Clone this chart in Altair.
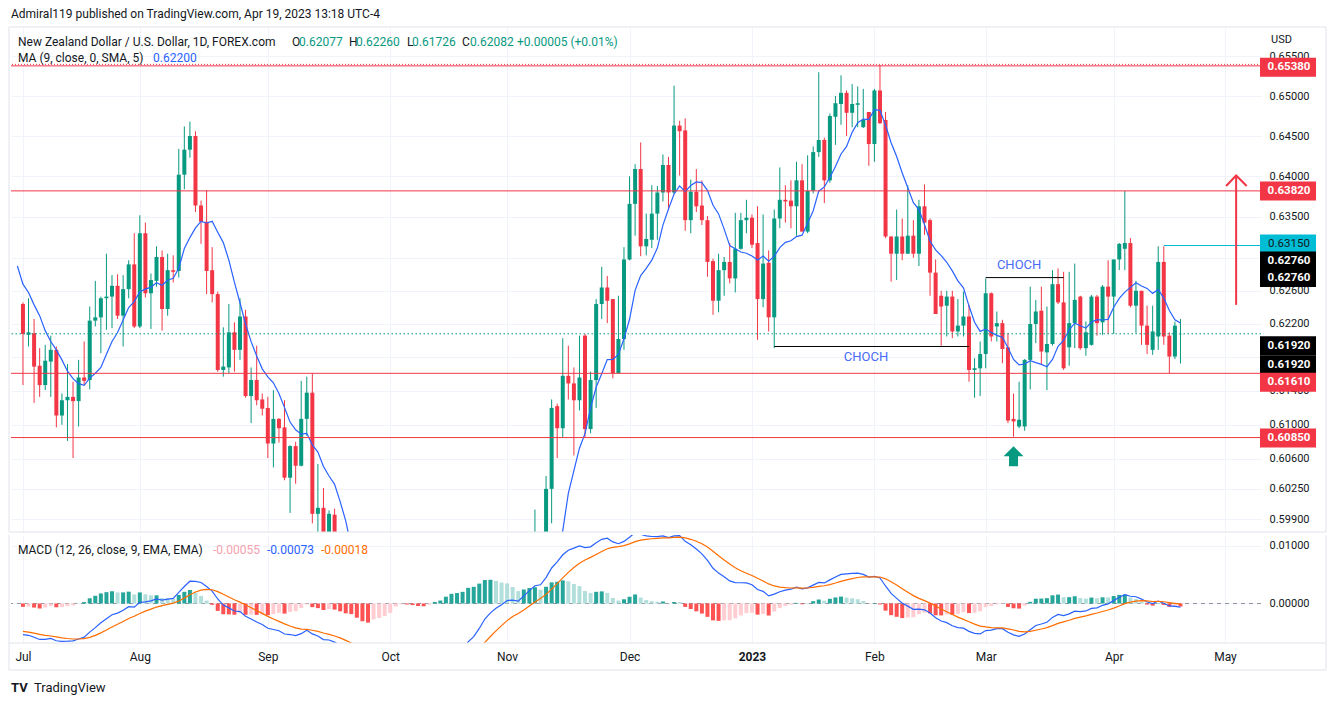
import altair as alt
import numpy as np
import pandas as pd

FONT = "Roboto"
UP, DOWN = "#089981", "#f23645"
INK = "#131722"
W, H1, H2 = 1250, 504, 108
X0, X1 = -1.25, 221.57

# ---- daily candles, NZD/USD, 1 Jul 2022 .. 19 Apr 2023 (index 0 = 1 Jul 2022) ----
opens = [
    0.6244, 0.6207, 0.6209, 0.6170, 0.6147, 0.6175, 0.6189, 0.6111, 0.6129, 0.6133,
    0.6128, 0.6156, 0.6153, 0.6224, 0.6228, 0.6251, 0.6253, 0.6266, 0.6230, 0.6262,
    0.6292, 0.6217, 0.6330, 0.6257, 0.6272, 0.6301, 0.6238, 0.6285, 0.6284, 0.6402,
    0.6433, 0.6450, 0.6364, 0.6344, 0.6285, 0.6256, 0.6165, 0.6168, 0.6210, 0.6189,
    0.6229, 0.6134, 0.6153, 0.6130, 0.6120, 0.6078, 0.6107, 0.6097, 0.6038, 0.6075,
    0.6052, 0.6107, 0.6138, 0.5996, 0.6003, 0.5950, 0.5995, 0.5950, 0.5895, 0.5850,
    0.5840, 0.5720, 0.5665, 0.5650, 0.5720, 0.5670, 0.5660, 0.5680, 0.5770, 0.5700,
    0.5640, 0.5610, 0.5575, 0.5565, 0.5590, 0.5620, 0.5595, 0.5665, 0.5670, 0.5640,
    0.5660, 0.5750, 0.5720, 0.5800, 0.5860, 0.5830, 0.5820, 0.5820, 0.5850, 0.5790,
    0.5760, 0.5890, 0.5920, 0.5940, 0.5880, 0.6025, 0.6122, 0.6096, 0.6158, 0.6149,
    0.6129, 0.6206, 0.6095, 0.6153, 0.6244, 0.6264, 0.6250, 0.6161, 0.6202, 0.6298,
    0.6366, 0.6409, 0.6314, 0.6322, 0.6354, 0.6380, 0.6414, 0.6380, 0.6463, 0.6457,
    0.6346, 0.6381, 0.6364, 0.6346, 0.6296, 0.6248, 0.6285, 0.6295, 0.6275, 0.6311,
    0.6346, 0.6349, 0.6318, 0.6250, 0.6294, 0.6228, 0.6348, 0.6371, 0.6370, 0.6363,
    0.6395, 0.6332, 0.6382, 0.6430, 0.6445, 0.6395, 0.6474, 0.6490, 0.6504, 0.6479,
    0.6489, 0.6461, 0.6480, 0.6440, 0.6507, 0.6470, 0.6326, 0.6305, 0.6326, 0.6305,
    0.6327, 0.6305, 0.6363, 0.6346, 0.6282, 0.6254, 0.6242, 0.6253, 0.6211, 0.6218,
    0.6229, 0.6165, 0.6167, 0.6184, 0.6257, 0.6217, 0.6221, 0.6192, 0.6107, 0.6098,
    0.6098, 0.6177, 0.6220, 0.6236, 0.6186, 0.6196, 0.6268, 0.6246, 0.6192, 0.6221,
    0.6253, 0.6191, 0.6195, 0.6253, 0.6222, 0.6265, 0.6253, 0.6298, 0.6311, 0.6318,
    0.6242, 0.6260, 0.6218, 0.6189, 0.6205, 0.6295, 0.6206, 0.6181, 0.62077]
highs = [
    0.6246, 0.6251, 0.6226, 0.6191, 0.6195, 0.6206, 0.6193, 0.6137, 0.6172, 0.6151,
    0.6177, 0.6199, 0.6241, 0.6272, 0.6253, 0.6305, 0.6279, 0.6280, 0.6279, 0.6297,
    0.6330, 0.6352, 0.6343, 0.6281, 0.6314, 0.6309, 0.6305, 0.6303, 0.6434, 0.6462,
    0.6468, 0.6456, 0.6370, 0.6383, 0.6313, 0.6259, 0.6216, 0.6244, 0.6222, 0.6251,
    0.6237, 0.6168, 0.6194, 0.6137, 0.6133, 0.6141, 0.6108, 0.6129, 0.6076, 0.6080,
    0.6152, 0.6157, 0.6161, 0.6054, 0.6026, 0.6000, 0.6002, 0.5970, 0.5930, 0.5880,
    0.5850, 0.5740, 0.5710, 0.5735, 0.5740, 0.5740, 0.5700, 0.5810, 0.5790, 0.5720,
    0.5665, 0.5620, 0.5620, 0.5615, 0.5640, 0.5660, 0.5680, 0.5710, 0.5690, 0.5710,
    0.5760, 0.5780, 0.5810, 0.5870, 0.5880, 0.5850, 0.5840, 0.5900, 0.5880, 0.5800,
    0.5900, 0.5940, 0.6001, 0.5960, 0.6040, 0.6130, 0.6125, 0.6203, 0.6194, 0.6168,
    0.6206, 0.6208, 0.6163, 0.6250, 0.6289, 0.6278, 0.6250, 0.6254, 0.6313, 0.6400,
    0.6415, 0.6442, 0.6354, 0.6389, 0.6388, 0.6427, 0.6424, 0.6513, 0.6469, 0.6472,
    0.6396, 0.6409, 0.6395, 0.6351, 0.6299, 0.6305, 0.6301, 0.6318, 0.6355, 0.6355,
    0.6371, 0.6353, 0.6363, 0.6353, 0.6309, 0.6359, 0.6411, 0.6389, 0.6395, 0.6418,
    0.6415, 0.6426, 0.6437, 0.6530, 0.6448, 0.6478, 0.6500, 0.6526, 0.6507, 0.6515,
    0.6512, 0.6509, 0.6480, 0.6509, 0.6539, 0.6480, 0.6326, 0.6359, 0.6348, 0.6389,
    0.6346, 0.6371, 0.6390, 0.6348, 0.6298, 0.6260, 0.6260, 0.6260, 0.6250, 0.6259,
    0.6243, 0.6179, 0.6199, 0.6275, 0.6258, 0.6235, 0.6225, 0.6209, 0.6137, 0.6151,
    0.6178, 0.6265, 0.6249, 0.6265, 0.6241, 0.6285, 0.6287, 0.6283, 0.6283, 0.6293,
    0.6254, 0.6223, 0.6255, 0.6255, 0.6267, 0.6297, 0.6298, 0.6318, 0.6382, 0.6324,
    0.6272, 0.6260, 0.6242, 0.6242, 0.6314, 0.6314, 0.6210, 0.6223, 0.62260]
lows = [
    0.6147, 0.6193, 0.6126, 0.6133, 0.6141, 0.6133, 0.6097, 0.6100, 0.6081, 0.6061,
    0.6098, 0.6147, 0.6142, 0.6217, 0.6185, 0.6213, 0.6215, 0.6226, 0.6193, 0.6251,
    0.6215, 0.6215, 0.6252, 0.6214, 0.6265, 0.6212, 0.6230, 0.6270, 0.6276, 0.6384,
    0.6423, 0.6356, 0.6317, 0.6256, 0.6246, 0.6163, 0.6157, 0.6161, 0.6163, 0.6177,
    0.6132, 0.6102, 0.6123, 0.6111, 0.6061, 0.6050, 0.6079, 0.6035, 0.5997, 0.6031,
    0.6051, 0.6087, 0.5985, 0.5966, 0.5940, 0.5930, 0.5940, 0.5880, 0.5830, 0.5810,
    0.5720, 0.5650, 0.5630, 0.5565, 0.5630, 0.5630, 0.5600, 0.5670, 0.5680, 0.5630,
    0.5600, 0.5560, 0.5545, 0.5550, 0.5512, 0.5580, 0.5590, 0.5640, 0.5630, 0.5620,
    0.5590, 0.5690, 0.5700, 0.5780, 0.5810, 0.5780, 0.5780, 0.5810, 0.5770, 0.5740,
    0.5750, 0.5870, 0.5900, 0.5870, 0.5860, 0.5985, 0.6061, 0.6085, 0.6130, 0.6064,
    0.6117, 0.6085, 0.6090, 0.6120, 0.6226, 0.6221, 0.6155, 0.6161, 0.6189, 0.6297,
    0.6327, 0.6302, 0.6303, 0.6312, 0.6322, 0.6369, 0.6359, 0.6378, 0.6401, 0.6333,
    0.6330, 0.6356, 0.6340, 0.6277, 0.6231, 0.6234, 0.6254, 0.6269, 0.6258, 0.6310,
    0.6330, 0.6312, 0.6201, 0.6240, 0.6211, 0.6191, 0.6336, 0.6343, 0.6336, 0.6327,
    0.6332, 0.6330, 0.6379, 0.6424, 0.6367, 0.6392, 0.6439, 0.6464, 0.6450, 0.6461,
    0.6461, 0.6460, 0.6413, 0.6418, 0.6465, 0.6324, 0.6271, 0.6273, 0.6297, 0.6305,
    0.6300, 0.6290, 0.6328, 0.6254, 0.6232, 0.6194, 0.6205, 0.6203, 0.6205, 0.6205,
    0.6151, 0.6132, 0.6134, 0.6167, 0.6199, 0.6199, 0.6173, 0.6102, 0.6086, 0.6096,
    0.6093, 0.6142, 0.6197, 0.6172, 0.6141, 0.6194, 0.6244, 0.6165, 0.6170, 0.6191,
    0.6189, 0.6182, 0.6194, 0.6206, 0.6207, 0.6208, 0.6208, 0.6285, 0.6285, 0.6240,
    0.6209, 0.6195, 0.6184, 0.6183, 0.6189, 0.6195, 0.6161, 0.6178, 0.61726]
closes = [
    0.6208, 0.6210, 0.6169, 0.6147, 0.6176, 0.6189, 0.6111, 0.6129, 0.6133, 0.6128,
    0.6156, 0.6152, 0.6224, 0.6228, 0.6251, 0.6253, 0.6266, 0.6230, 0.6262, 0.6292,
    0.6217, 0.6330, 0.6257, 0.6273, 0.6301, 0.6238, 0.6285, 0.6283, 0.6402, 0.6433,
    0.6450, 0.6364, 0.6344, 0.6284, 0.6256, 0.6165, 0.6169, 0.6210, 0.6189, 0.6229,
    0.6134, 0.6153, 0.6129, 0.6119, 0.6078, 0.6107, 0.6096, 0.6038, 0.6075, 0.6052,
    0.6107, 0.6138, 0.5996, 0.6003, 0.5955, 0.5996, 0.5950, 0.5895, 0.5850, 0.5840,
    0.5730, 0.5665, 0.5650, 0.5720, 0.5670, 0.5660, 0.5680, 0.5770, 0.5700, 0.5640,
    0.5610, 0.5575, 0.5565, 0.5590, 0.5620, 0.5595, 0.5665, 0.5670, 0.5640, 0.5660,
    0.5750, 0.5720, 0.5800, 0.5860, 0.5830, 0.5820, 0.5820, 0.5850, 0.5790, 0.5760,
    0.5890, 0.5920, 0.5940, 0.5880, 0.6025, 0.6120, 0.6096, 0.6158, 0.6149, 0.6129,
    0.6156, 0.6095, 0.6153, 0.6244, 0.6264, 0.6248, 0.6161, 0.6202, 0.6298, 0.6366,
    0.6409, 0.6314, 0.6323, 0.6354, 0.6380, 0.6414, 0.6380, 0.6463, 0.6456, 0.6346,
    0.6381, 0.6363, 0.6346, 0.6295, 0.6248, 0.6285, 0.6295, 0.6275, 0.6311, 0.6346,
    0.6349, 0.6316, 0.6250, 0.6293, 0.6228, 0.6348, 0.6371, 0.6369, 0.6363, 0.6395,
    0.6332, 0.6382, 0.6430, 0.6445, 0.6395, 0.6475, 0.6491, 0.6504, 0.6479, 0.6490,
    0.6491, 0.6470, 0.6440, 0.6507, 0.6466, 0.6326, 0.6305, 0.6326, 0.6305, 0.6327,
    0.6305, 0.6363, 0.6343, 0.6282, 0.6232, 0.6241, 0.6253, 0.6211, 0.6218, 0.6229,
    0.6165, 0.6167, 0.6184, 0.6257, 0.6205, 0.6221, 0.6190, 0.6105, 0.6104, 0.6106,
    0.6177, 0.6220, 0.6235, 0.6187, 0.6196, 0.6268, 0.6246, 0.6167, 0.6221, 0.6249,
    0.6191, 0.6210, 0.6253, 0.6221, 0.6265, 0.6253, 0.6298, 0.6317, 0.6318, 0.6242,
    0.6260, 0.6218, 0.6195, 0.6211, 0.6295, 0.6205, 0.6181, 0.6218, 0.62082]

# MA line values for the first bars (before a full 9-bar window)
ma_head_idx = [-1, 0, 1, 2, 3, 4, 5, 6, 7]
ma_head = [0.6290, 0.6268, 0.6258, 0.6243, 0.6230, 0.6212, 0.6199, 0.6189, 0.6177]
# MACD state just before 1 Jul 2022
seed_ema12, seed_ema26, seed_signal = 0.6285, 0.6337, -0.0047

month_idx = [0, 21, 44, 66, 87, 109, 131, 153, 173, 196, 216]
month_lbl = ["Jul", "Aug", "Sep", "Oct", "Nov", "Dec", "2023", "Feb", "Mar", "Apr", "May"]
price_ticks = [0.655, 0.650, 0.645, 0.640, 0.635, 0.630, 0.626, 0.622, 0.618,
               0.614, 0.610, 0.606, 0.6025, 0.599]
hidden_tick_labels = ["0.63000", "0.61800"]   # covered by the price tags in the original
macd_ticks = [0.0, 0.01]

red_levels = [0.6382, 0.6161, 0.6085]
top_level = 0.6538
last_close = 0.62082
cyan_level, cyan_from = 0.6315, 205
choch_from, choch_to, choch_level = [135, 173], [170, 187], [0.6193, 0.6276]
choch_text_i, choch_text_p = [151.5, 179], [0.6181, 0.6291]
arrow_i, arrow_lo, arrow_hi = 218, 0.6243, 0.6401
arrow_head_i, arrow_head_p = [216.2, 218, 219.9], [0.6388, 0.6401, 0.6388]
up_arrow_i, up_arrow_p = 178, 0.6063

price_labels = ["0.65380", "0.63820", "0.63150", "0.62760", "0.62760",
                "0.61920", "0.61920", "0.61610", "0.60850"]
price_label_vals = [0.6538, 0.6382, 0.6315, 0.6276, 0.6276, 0.6192, 0.6192, 0.6161, 0.6085]

# ---------------- data frames ----------------
n = len(closes)
df = pd.DataFrame({"i": np.arange(n), "o": opens, "h": highs, "l": lows, "c": closes})
df["h"] = df[["h", "o", "c"]].max(axis=1)
df["l"] = df[["l", "o", "c"]].min(axis=1)
df["dir"] = np.where(df["c"] >= df["o"], "up", "down")

sma = pd.Series(closes).rolling(9).mean()
ma_df = pd.DataFrame({"i": ma_head_idx + list(range(8, n)),
                      "ma": ma_head + list(sma.iloc[8:])})

e12, e26, sig = seed_ema12, seed_ema26, seed_signal
prev_h = (e12 - e26) - sig
mrows = []
for i, c in enumerate(closes):
    e12 += (c - e12) * 2 / 13
    e26 += (c - e26) * 2 / 27
    m = e12 - e26
    sig += (m - sig) * 2 / 10
    h = m - sig
    if h >= 0:
        cat = "ga" if h > prev_h else "fa"
    else:
        cat = "gb" if h > prev_h else "fb"
    mrows.append({"i": i, "macd": m, "sig": sig, "hist": h, "cat": cat})
    prev_h = h
mdf = pd.DataFrame(mrows)

# ---------------- scales & axes (same axis object on every layer) ----------------
xs = alt.Scale(domain=[X0, X1], nice=False, zero=False)
ys = alt.Scale(type="log", domain=[0.5975, 0.6586], nice=False)
ms = alt.Scale(domain=[-0.00687, 0.01191], nice=False, zero=False)
cs = alt.Scale(domain=["up", "down"], range=[UP, DOWN])
hcs = alt.Scale(domain=["ga", "fa", "gb", "fb"],
                range=["#26a69a", "#b2dfdb", "#ffcdd2", "#ff5252"])

hidden_js = "[" + ",".join(f"'{s}'" for s in hidden_tick_labels) + "]"
AX_TOP = alt.Axis(values=month_idx, grid=True, gridColor="#f0f3fa", labels=False,
                  ticks=False, domain=False, title=None)
AY_TOP = alt.Axis(orient="right", values=price_ticks, format=".5f", grid=True,
                  gridColor="#f0f3fa", domain=False, ticks=False, labelPadding=8,
                  labelFont=FONT, labelFontSize=11, labelColor=INK, title=None,
                  labelOverlap=False,
                  labelExpr=f"indexof({hidden_js}, datum.label) >= 0 ? '' : datum.label")
expr = " : ".join(f"datum.value == {v} ? '{l}'" for v, l in zip(month_idx, month_lbl)) + " : ''"
AX_BOT = alt.Axis(values=month_idx, grid=True, gridColor="#f0f3fa", ticks=False, domain=False,
                  labelExpr=expr, labelPadding=8, labelFont=FONT, labelFontSize=12,
                  labelColor=INK, labelFlush=False, title=None,
                  labelFontWeight={"condition": {"test": "datum.value == 131", "value": "bold"},
                                   "value": "normal"})
AY_BOT = alt.Axis(orient="right", values=macd_ticks, format=".5f", grid=True,
                  gridColor="#f0f3fa", domain=False, ticks=False, labelPadding=8,
                  labelFont=FONT, labelFontSize=11, labelColor=INK, title=None)

X = lambda f="i": alt.X(f"{f}:Q", scale=xs, axis=AX_TOP)
Y = lambda f: alt.Y(f"{f}:Q", scale=ys, axis=AY_TOP)
XB = lambda f="i": alt.X(f"{f}:Q", scale=xs, axis=AX_BOT)
YB = lambda f: alt.Y(f"{f}:Q", scale=ms, axis=AY_BOT)
one = pd.DataFrame({"a": [0]})


def label(text, x, y, color=INK, size=12, weight="normal", align="left", font=FONT):
    return alt.Chart(pd.DataFrame({"t": [text]})).mark_text(
        x=x, y=y, color=color, fontSize=size, fontWeight=weight, align=align,
        baseline="middle", font=font).encode(text="t:N")


def hrule(x1, x2, y, color="#e0e3eb"):
    return alt.Chart(one).mark_rule(color=color, strokeWidth=1).encode(
        x=alt.value(x1), x2=alt.value(x2), y=alt.value(y))


def vrule(x, y1, y2, color="#e0e3eb"):
    return alt.Chart(one).mark_rule(color=color, strokeWidth=1).encode(
        x=alt.value(x), y=alt.value(y1), y2=alt.value(y2))


# ---------------- price pane ----------------
wicks = alt.Chart(df).mark_rule(strokeWidth=1, clip=True).encode(
    x=X(), y=Y("l"), y2="h:Q", color=alt.Color("dir:N", scale=cs, legend=None))
bodies = alt.Chart(df).mark_bar(size=4, clip=True).encode(
    x=X(), y=Y("o"), y2="c:Q", color=alt.Color("dir:N", scale=cs, legend=None))
ma_line = alt.Chart(ma_df).mark_line(color="#2962ff", strokeWidth=1.2, clip=True).encode(
    x=X(), y=Y("ma"))

red_lines = alt.Chart(pd.DataFrame({"v": red_levels})).mark_rule(
    color=DOWN, strokeWidth=1).encode(y=Y("v"))
top_line = alt.Chart(pd.DataFrame({"v": [top_level]})).mark_rule(
    color=DOWN, strokeWidth=1).encode(y=Y("v"))
top_dots = alt.Chart(pd.DataFrame({"v": [top_level]})).mark_rule(
    color=DOWN, strokeWidth=1, strokeDash=[1, 2], yOffset=-1.5).encode(y=Y("v"))
last_line = alt.Chart(pd.DataFrame({"v": [last_close]})).mark_rule(
    color=UP, strokeWidth=1, strokeDash=[1.5, 2.5]).encode(y=Y("v"))
cyan_line = alt.Chart(pd.DataFrame({"i": [cyan_from], "v": [cyan_level]})).mark_rule(
    color="#00bcd4", strokeWidth=1).encode(x=X(), x2=alt.value(W), y=Y("v"))
choch = alt.Chart(pd.DataFrame({"a": choch_from, "b": choch_to, "v": choch_level})).mark_rule(
    color="#000000", strokeWidth=1).encode(x=X("a"), x2="b:Q", y=Y("v"))
choch_txt = alt.Chart(pd.DataFrame({"i": choch_text_i, "p": choch_text_p,
                                    "t": ["CHOCH", "CHOCH"]})).mark_text(
    font=FONT, fontSize=13, color="#4a6cf7").encode(x=X(), y=Y("p"), text="t:N")
shaft = alt.Chart(pd.DataFrame({"i": [arrow_i], "a": [arrow_lo], "b": [arrow_hi]})).mark_rule(
    color=DOWN, strokeWidth=2).encode(x=X(), y=Y("a"), y2="b:Q")
head = alt.Chart(pd.DataFrame({"i": arrow_head_i, "p": arrow_head_p, "k": [0, 1, 2]})).mark_line(
    color=DOWN, strokeWidth=2).encode(x=X(), y=Y("p"), order="k:Q")
up_arrow = alt.Chart(pd.DataFrame({"i": [up_arrow_i], "p": [up_arrow_p]})).mark_point(
    shape="M0,-1L1,0L0.45,0L0.45,1L-0.45,1L-0.45,0L-1,0Z", size=400, filled=True,
    color=UP, opacity=1).encode(x=X(), y=Y("p"))

headers = [
    label("Admiral119 published on TradingView.com, Apr 19, 2023 13:18 UTC-4", 0, -14),
    label("New Zealand Dollar / U.S. Dollar, 1D, FOREX.com", 7, 14),
    label("O", 281, 14), label("0.62077", 288, 14, UP),
    label("H", 338, 14), label("0.62260", 345, 14, UP),
    label("L", 396, 14), label("0.61726", 401, 14, UP),
    label("C", 451, 14), label("0.62082", 459, 14, UP),
    label("+0.00005 (+0.01%)", 506, 14, UP),
    label("MA (9, close, 0, SMA, 5)", 7, 30),
    label("0.62200", 142, 30, "#2962ff"),
    label("USD", 1260, 12, size=11),
]

box_style = [(DOWN, "white", "bold", 1.5), (DOWN, "white", "bold", 0),
             ("#00bcd4", INK, "normal", -1.5), ("#000000", "white", "bold", -16.5),
             ("#000000", "white", "bold", 0), ("#000000", "white", "bold", -1.5),
             ("#000000", "white", "bold", 17.5), (DOWN, "white", "bold", 9),
             (DOWN, "white", "bold", 0.5)]
boxes = []
for val, txt, (bg, fg, wt, dy) in zip(price_label_vals, price_labels, box_style):
    d = pd.DataFrame({"v": [val], "t": [txt]})
    boxes.append(alt.Chart(d).mark_rect(color=bg, x=W - 1, x2=W + 55,
                                        yOffset=dy - 9.5, y2Offset=dy + 9.5).encode(
        y=Y("v"), y2="v:Q"))
    boxes.append(alt.Chart(d).mark_text(x=W + 28, dy=dy, color=fg, fontWeight=wt,
                                        fontSize=11.5, font=FONT).encode(y=Y("v"), text="t:N"))

frame_top = [hrule(-2, 1315, -1), vrule(-2, -1, 504), vrule(1315, -1, 504), hrule(-2, 1315, 504)]

top = alt.layer(wicks, bodies, ma_line, red_lines, top_line, top_dots, last_line,
                cyan_line, choch, choch_txt, shaft, head, up_arrow,
                *headers, *boxes, *frame_top).properties(width=W, height=H1)

# ---------------- MACD pane ----------------
zero = alt.Chart(pd.DataFrame({"v": [0.0]})).mark_rule(
    color="#9598a1", strokeDash=[4, 4], strokeWidth=1).encode(y=YB("v"))
hist = alt.Chart(mdf).mark_bar(size=4, clip=True).encode(
    x=XB(), y=YB("hist"), y2=alt.datum(0),
    color=alt.Color("cat:N", scale=hcs, legend=None))
macd_line = alt.Chart(mdf).mark_line(color="#2962ff", strokeWidth=1.2, clip=True).encode(
    x=XB(), y=YB("macd"))
sig_line = alt.Chart(mdf).mark_line(color="#ff6d00", strokeWidth=1.2, clip=True).encode(
    x=XB(), y=YB("sig"))
mhead = [
    label("MACD (12, 26, close, 9, EMA, EMA)", 7, 15),
    label("-0.00055", 202, 15, "#f7a1ad"),
    label("-0.00073", 256, 15, "#2962ff"),
    label("-0.00018", 310, 15, "#ff6d00"),
    label("TV", 0, 153, INK, size=13, weight="bold"),
    label("TradingView", 23, 153, INK, size=13),
]
frame_bot = [vrule(-2, 0, 135), vrule(1315, 0, 135), hrule(-2, 1315, 108), hrule(-2, 1315, 135)]

bottom = alt.layer(zero, hist, macd_line, sig_line, *mhead, *frame_bot).properties(
    width=W, height=H2)

chart = alt.vconcat(top, bottom, spacing=1).resolve_scale(
    x="independent", y="independent", color="independent").properties(
    padding={"left": 0, "top": 0, "right": 0, "bottom": 0}, background="white"
).configure_view(stroke=None)

chart.save("out.html", embed_options={"renderer": "svg", "actions": False})
